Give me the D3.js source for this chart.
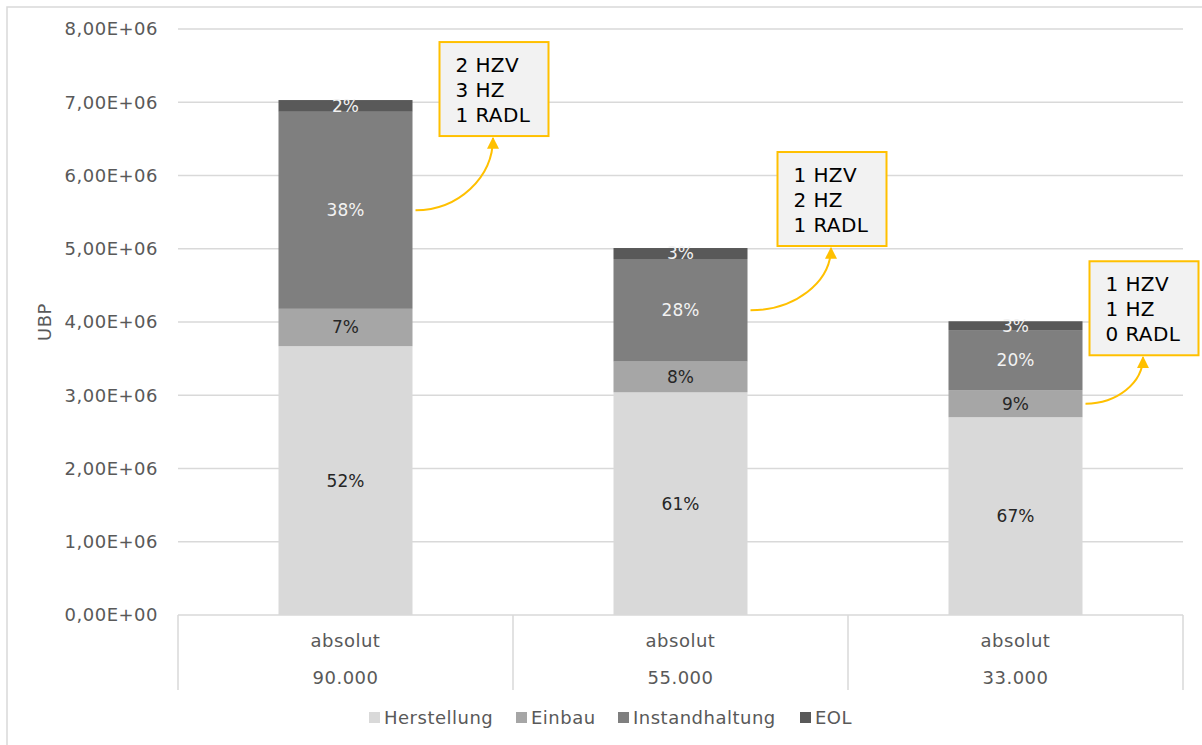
<!DOCTYPE html>
<html><head><meta charset="utf-8">
<script src="https://cdn.jsdelivr.net/npm/d3@7"></script>
<style>
html,body{margin:0;padding:0;background:#fff;}
svg{display:block;font-family:"DejaVu Sans",Verdana,sans-serif;}
</style></head>
<body>
<svg id="chart" width="1202" height="745"></svg>
<script>
// ---- data ----
const categories = ["90.000", "55.000", "33.000"];
const subLabel = ["absolut", "absolut", "absolut"];
const seriesNames = ["Herstellung", "Einbau", "Instandhaltung", "EOL"];
const herstellung = [3.67e6, 3.04e6, 2.70e6];
const einbau = [0.51e6, 0.42e6, 0.37e6];
const instandhaltung = [2.69e6, 1.40e6, 0.82e6];
const eol = [0.16e6, 0.15e6, 0.12e6];
const yTicks = [0, 1e6, 2e6, 3e6, 4e6, 5e6, 6e6, 7e6, 8e6];
const annotationText = [["2 HZV", "3 HZ", "1 RADL"], ["1 HZV", "2 HZ", "1 RADL"], ["1 HZV", "1 HZ", "0 RADL"]];
const annotationAnchorSeries = [2, 2, 1];

// ---- styling / layout ----
const colors = ["#d9d9d9", "#a6a6a6", "#7f7f7f", "#595959"];
const labelColors = ["#262626", "#262626", "#f2f2f2", "#f2f2f2"];
const boxOffsetX = [27, 30, 7];      // box left offset from bar right edge (px)
const boxTopOffset = [-58, -96, -60]; // box top relative to top of bar (px)
const boxW = 109, boxH = 94;
const axisFont = 18, axisSpacing = 0.5;

const svg = d3.select("#chart");
const plotLeft = 178, plotRight = 1183, plotTop = 29, plotBottom = 615;

svg.append("rect").attr("x", 7).attr("y", 7).attr("width", 1210).attr("height", 760)
  .attr("fill", "#fff").attr("stroke", "#d9d9d9").attr("stroke-width", 1.5);

const x = d3.scaleBand().domain(d3.range(categories.length)).range([plotLeft, plotRight]).paddingInner(0).paddingOuter(0);
const barW = 134;
const y = d3.scaleLinear().domain([0, 8e6]).range([plotBottom, plotTop]);

const seriesData = [herstellung, einbau, instandhaltung, eol];
const rows = categories.map((c, i) => {
  const r = {i};
  seriesNames.forEach((s, k) => r[s] = seriesData[k][i]);
  return r;
});
const stack = d3.stack().keys(seriesNames)(rows);

// grid
svg.append("g").selectAll("line").data(yTicks.filter(t => t > 0)).join("line")
  .attr("x1", plotLeft).attr("x2", plotRight)
  .attr("y1", d => y(d)).attr("y2", d => y(d))
  .attr("stroke", "#d9d9d9").attr("stroke-width", 1.5);

// y axis labels
const fmt = v => {
  const exp = v === 0 ? 0 : Math.floor(Math.log10(Math.abs(v)));
  const m = v === 0 ? 0 : v / Math.pow(10, exp);
  return m.toFixed(2).replace(".", ",") + "E+" + String(exp).padStart(2, "0");
};
const yAxis = d3.axisLeft(y).tickValues(yTicks).tickFormat(fmt).tickSize(0).tickPadding(20);
const yg = svg.append("g").attr("transform", `translate(${plotLeft},0)`).call(yAxis);
yg.select(".domain").remove();
yg.selectAll("text").attr("font-size", axisFont).attr("letter-spacing", axisSpacing)
  .attr("fill", "#595959").attr("font-family", "DejaVu Sans, sans-serif");

svg.append("text").attr("transform", `translate(51,322) rotate(-90)`)
  .attr("text-anchor", "middle").attr("font-size", axisFont).attr("letter-spacing", axisSpacing)
  .attr("fill", "#595959").text("UBP");

// bars
const cx = i => x(i) + x.bandwidth() / 2;
stack.forEach((layer, k) => {
  const g = svg.append("g");
  g.selectAll("rect").data(layer).join("rect")
    .attr("x", (d, i) => cx(i) - barW / 2)
    .attr("width", barW)
    .attr("y", d => y(d[1]))
    .attr("height", d => y(d[0]) - y(d[1]))
    .attr("fill", colors[k]);
});
// labels
stack.forEach((layer, k) => {
  svg.append("g").selectAll("text").data(layer).join("text")
    .attr("x", (d, i) => cx(i))
    .attr("y", d => (y(d[0]) + y(d[1])) / 2)
    .attr("dy", "0.35em")
    .attr("text-anchor", "middle")
    .attr("font-size", 17)
    .attr("fill", labelColors[k])
    .text((d, i) => {
      const total = seriesData.reduce((s, arr) => s + arr[i], 0);
      return d3.format(".0%")((d[1] - d[0]) / total);
    });
});

// x axis
svg.append("line").attr("x1", plotLeft).attr("x2", plotRight).attr("y1", plotBottom).attr("y2", plotBottom)
  .attr("stroke", "#d9d9d9").attr("stroke-width", 1.5);
const seps = d3.range(categories.length + 1).map(i => i < categories.length ? x(i) : x(i - 1) + x.bandwidth());
svg.append("g").selectAll("line").data(seps).join("line")
  .attr("x1", d => d).attr("x2", d => d).attr("y1", plotBottom).attr("y2", 690)
  .attr("stroke", "#d9d9d9").attr("stroke-width", 1.5);
svg.append("g").selectAll("text").data(subLabel).join("text")
  .attr("x", (d, i) => cx(i)).attr("y", 641).attr("dy", "0.35em").attr("text-anchor", "middle")
  .attr("font-size", axisFont).attr("letter-spacing", axisSpacing).attr("fill", "#595959").text(d => d);
svg.append("g").selectAll("text").data(categories).join("text")
  .attr("x", (d, i) => cx(i)).attr("y", 678).attr("dy", "0.35em").attr("text-anchor", "middle")
  .attr("font-size", axisFont).attr("letter-spacing", axisSpacing).attr("fill", "#595959").text(d => d);

// annotations
const defs = svg.append("defs");
defs.append("marker").attr("id", "arr").attr("viewBox", "0 0 10 10").attr("refX", 9).attr("refY", 5)
  .attr("markerWidth", 6).attr("markerHeight", 6).attr("orient", "auto-start-reverse")
  .attr("markerUnits", "strokeWidth")
  .append("path").attr("d", "M0,0 L10,5 L0,10 z").attr("fill", "#ffc000");

annotationText.forEach((lines, i) => {
  const barRight = cx(i) + barW / 2;
  const totalTop = y(stack[3][i][1]);
  const bx = barRight + boxOffsetX[i];
  const by = totalTop + boxTopOffset[i];
  const s = stack[annotationAnchorSeries[i]][i];
  const sy = (y(s[0]) + y(s[1])) / 2;
  const sx = barRight + 3;
  const ex = bx + boxW / 2 - 1;
  const ey = by + boxH + 2;
  svg.append("path")
    .attr("d", `M${sx},${sy} C${sx + (ex - sx) * 0.55},${sy} ${ex},${sy - (sy - ey) * 0.45} ${ex},${ey}`)
    .attr("fill", "none").attr("stroke", "#ffc000").attr("stroke-width", 2)
    .attr("marker-end", "url(#arr)");
  svg.append("rect").attr("x", bx).attr("y", by).attr("width", boxW).attr("height", boxH)
    .attr("fill", "#f2f2f2").attr("stroke", "#ffc000").attr("stroke-width", 2);
  svg.append("g").selectAll("text").data(lines).join("text")
    .attr("x", bx + 16).attr("y", (d, j) => by + 23 + j * 25).attr("dy", "0.35em")
    .attr("font-size", 20).attr("letter-spacing", 0.4).attr("fill", "#000").text(d => d);
});

// legend
const legendX = [369, 516, 618, 800];
const lg = svg.append("g");
seriesNames.forEach((s, k) => {
  lg.append("rect").attr("x", legendX[k]).attr("y", 712).attr("width", 11).attr("height", 11).attr("fill", colors[k]);
  lg.append("text").attr("x", legendX[k] + 15).attr("y", 718).attr("dy", "0.35em")
    .attr("font-size", axisFont).attr("letter-spacing", axisSpacing).attr("fill", "#595959").text(s);
});
</script>
</body></html>
